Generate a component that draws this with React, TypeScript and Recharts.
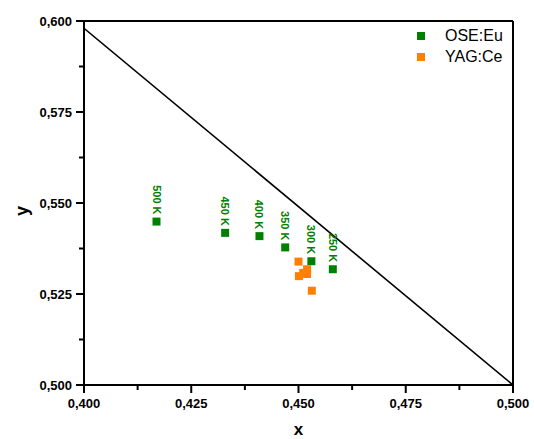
import React from 'react';
import {
  ScatterChart,
  Scatter,
  XAxis,
  YAxis,
  ZAxis,
  ReferenceLine,
  LabelList,
  Legend,
} from 'recharts';

// Chromaticity coordinates of the OSE:Eu phosphor at several temperatures
const oseX = [0.4169, 0.4329, 0.4409, 0.4469, 0.453, 0.458];
const oseY = [0.5449, 0.5418, 0.5409, 0.5378, 0.534, 0.5318];
const oseTemps = ['500 K', '450 K', '400 K', '350 K', '300 K', '250 K'];

// Chromaticity coordinates of YAG:Ce
const yagX = [0.45, 0.452, 0.4511, 0.4501, 0.452, 0.4531];
const yagY = [0.5339, 0.5318, 0.5308, 0.5299, 0.5305, 0.5259];

// Boundary line across the diagram
const boundaryX = [0.4, 0.5];
const boundaryY = [0.598, 0.5];

const xTicks = [0.4, 0.4125, 0.425, 0.4375, 0.45, 0.4625, 0.475, 0.4875, 0.5];
const yTicks = [0.5, 0.5125, 0.525, 0.5375, 0.55, 0.5625, 0.575, 0.5875, 0.6];
const majorXTicks = [0.4, 0.425, 0.45, 0.475, 0.5];
const majorYTicks = [0.5, 0.525, 0.55, 0.575, 0.6];

const oseData = oseX.map((x, i) => ({ x, y: oseY[i], label: oseTemps[i] }));
const yagData = yagX.map((x, i) => ({ x, y: yagY[i] }));
const boundaryData = boundaryX.map((x, i) => ({ x, y: boundaryY[i] }));

const FONT = '"Liberation Sans", Arial, sans-serif';
const GREEN = '#008000';
const ORANGE = '#FF8000';

const isMajor = (v: number, majors: number[]) =>
  majors.some((m) => Math.abs(m - v) < 1e-9);

const fmt = (v: number) => v.toFixed(3).replace('.', ',');

const XTick = (props: any) => {
  const { x, y, payload } = props;
  const major = isMajor(payload.value, majorXTicks);
  return (
    <g>
      <line x1={x} x2={x} y1={y} y2={y + (major ? 8 : 5)} stroke="#000" strokeWidth={2} />
      {major && (
        <text
          x={x}
          y={y + 23}
          textAnchor="middle"
          fontFamily={FONT}
          fontWeight="bold"
          fontSize={13}
          fill="#000"
        >
          {fmt(payload.value)}
        </text>
      )}
    </g>
  );
};

const YTick = (props: any) => {
  const { x, y, payload } = props;
  const major = isMajor(payload.value, majorYTicks);
  return (
    <g>
      <line x1={x - (major ? 8 : 5)} x2={x} y1={y} y2={y} stroke="#000" strokeWidth={2} />
      {major && (
        <text
          x={x - 12}
          y={y}
          dy="0.35em"
          textAnchor="end"
          fontFamily={FONT}
          fontWeight="bold"
          fontSize={13}
          fill="#000"
        >
          {fmt(payload.value)}
        </text>
      )}
    </g>
  );
};

const TempLabel = (props: any) => {
  const { x, y, width, height, value } = props;
  const cx = x + width / 2;
  const cy = y + height / 2;
  const ty = cy - 7;
  return (
    <text
      x={cx}
      y={ty}
      transform={`rotate(90, ${cx}, ${ty})`}
      textAnchor="end"
      dominantBaseline="central"
      fontFamily={FONT}
      fontWeight="bold"
      fontSize={11}
      fill={GREEN}
    >
      {value}
    </text>
  );
};

const XTitle = (props: any) => {
  const { viewBox } = props;
  return (
    <text
      x={viewBox.x + viewBox.width / 2}
      y={viewBox.y + 50}
      textAnchor="middle"
      fontFamily={FONT}
      fontWeight="bold"
      fontSize={17}
      fill="#000"
    >
      x
    </text>
  );
};

const YTitle = (props: any) => {
  const { viewBox } = props;
  const tx = 22;
  const ty = viewBox.y + viewBox.height / 2 + 8;
  return (
    <text
      x={tx}
      y={ty}
      transform={`rotate(-90, ${tx}, ${ty})`}
      textAnchor="middle"
      dominantBaseline="central"
      fontFamily={FONT}
      fontWeight="bold"
      fontSize={18}
      fill="#000"
    >
      y
    </text>
  );
};

const LegendContent = (props: any) => {
  const items = (props.payload || []).filter((p: any) => p.type !== 'none');
  return (
    <div style={{ fontFamily: FONT, fontSize: 16, color: '#000' }}>
      {items.map((item: any) => (
        <div
          key={item.value}
          style={{ display: 'flex', alignItems: 'center', height: 21 }}
        >
          <span
            style={{
              display: 'inline-block',
              width: 8,
              height: 8,
              background: item.color,
              marginRight: 20,
            }}
          />
          <span>{item.value}</span>
        </div>
      ))}
    </div>
  );
};

const NoDot = () => <g />;

export default function App() {
  return (
    <div style={{ position: 'absolute', left: 0, top: 0 }}>
      <ScatterChart
        width={534}
        height={439}
        margin={{ top: 21, right: 21, left: 24, bottom: 24 }}
        style={{ background: '#fff' }}
      >
        <XAxis
          type="number"
          dataKey="x"
          domain={[0.4, 0.5]}
          ticks={xTicks}
          interval={0}
          allowDataOverflow
          height={30}
          tickSize={0}
          tickMargin={0}
          tickLine={false}
          tick={<XTick />}
          axisLine={{ stroke: '#000', strokeWidth: 2 }}
          label={<XTitle />}
        />
        <YAxis
          type="number"
          dataKey="y"
          domain={[0.5, 0.6]}
          ticks={yTicks}
          interval={0}
          allowDataOverflow
          width={60}
          tickSize={0}
          tickMargin={0}
          tickLine={false}
          tick={<YTick />}
          axisLine={{ stroke: '#000', strokeWidth: 2 }}
          label={<YTitle />}
        />
        <ZAxis range={[50, 50]} />
        <ReferenceLine y={0.6} stroke="#000" strokeWidth={2} />
        <ReferenceLine x={0.5} stroke="#000" strokeWidth={2} />
        <Scatter
          name="boundary"
          data={boundaryData}
          line={{ stroke: '#000', strokeWidth: 1.6 }}
          shape={<NoDot />}
          legendType="none"
          isAnimationActive={false}
        />
        <Scatter
          name="OSE:Eu"
          data={oseData}
          fill={GREEN}
          shape="square"
          isAnimationActive={false}
        >
          <LabelList dataKey="label" content={<TempLabel />} />
        </Scatter>
        <Scatter
          name="YAG:Ce"
          data={yagData}
          fill={ORANGE}
          shape="square"
          isAnimationActive={false}
        />
        <Legend
          layout="vertical"
          align="center"
          verticalAlign="middle"
          content={<LegendContent />}
          wrapperStyle={{ left: 417, top: 25, width: 100, height: 44 }}
        />
      </ScatterChart>
    </div>
  );
}
